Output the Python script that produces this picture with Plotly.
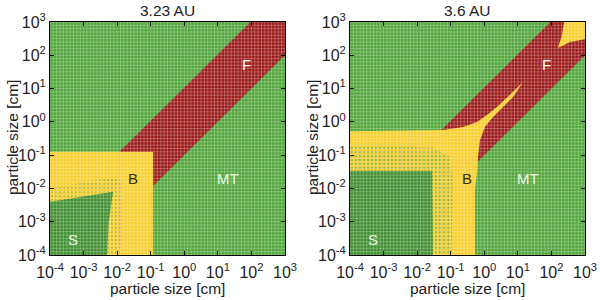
import numpy as np
import plotly.graph_objects as go

# ---------------- data (all coordinates are log10 of particle size in cm) ----------------
AXIS_MIN, AXIS_MAX = -4, 3
panel_titles = ["3.23 AU", "3.6 AU"]
tick_exps = [-4, -3, -2, -1, 0, 1, 2, 3]
tick_labels = ["10<sup>-4</sup>", "10<sup>-3</sup>", "10<sup>-2</sup>", "10<sup>-1</sup>",
               "10<sup>0</sup>", "10<sup>1</sup>", "10<sup>2</sup>", "10<sup>3</sup>"]

# fragmentation band F (same in both panels): between y = x + 1.03 and y = x - 1.0
f_band_x = [-4, 1.97, 3, 3, -3, -4]
f_band_y = [-2.97, 3, 3, 2, -4, -4]

# --- 3.23 AU ---
left_B_x = [-4, -4, -0.93, -0.93]
left_B_y = [-4, -0.9, -0.9, -4]
left_fuzz_x = [-4, -4, -2.6, -2.05, -1.85, -1.9]
left_fuzz_y = [-4, -2.0, -1.75, -1.65, -1.8, -4]
left_S_x = [-4, -4, -2.12, -2.25, -2.3]
left_S_y = [-4, -2.4, -2.1, -3.0, -4]

# --- 3.6 AU ---
right_B_x = [-4, -4, -1.23, -0.634, -0.217, 0.081, 0.379, 0.677, 0.975, 1.153,
             0.856, 0.558, 0.260, 0.021, -0.127, -0.187, -0.217, -0.276, -0.276]
right_B_y = [-4, -0.28, -0.244, -0.154, -0.004, 0.206, 0.447, 0.717, 1.017, 1.198,
             0.747, 0.447, 0.146, -0.154, -0.545, -1.055, -1.536, -2.047, -4]
right_top_x = [2.375, 2.315, 2.196, 2.553, 3, 3]
right_top_y = [3, 2.61, 2.22, 2.40, 2.48, 3]
right_fuzz_x = [-4, -4, -1.5, -1.05, -0.95, -0.97]
right_fuzz_y = [-4, -0.72, -0.78, -1.05, -1.6, -4]
right_S_x = [-4, -4, -1.55, -1.53]
right_S_y = [-4, -1.47, -1.47, -4]

# region labels: (text, x_exp, y_exp, color)
left_labels = [("F", 1.84, 1.71, "white"), ("B", -1.53, -1.69, "#3a2e05"),
               ("MT", 1.30, -1.69, "#eef7e6"), ("S", -3.32, -3.52, "#eef7e6")]
right_labels = [("F", 1.84, 1.71, "white"), ("B", -0.52, -1.69, "#3a2e05"),
                ("MT", 1.30, -1.69, "#eef7e6"), ("S", -3.32, -3.52, "#eef7e6")]

# ---------------- style ----------------
GREEN = "#52a63c"
DARK_GREEN = "#428f31"
RED = "#9c1b1b"
YELLOW = "#f8cf2e"
FONT = "Liberation Sans, Arial, sans-serif"
FS = 16

ML, MR, MT_, MB = 50, 15, 22, 45
PW = 600 - ML - MR
PH = 300 - MT_ - MB


def cm(v):
    return list(np.power(10.0, np.asarray(v, dtype=float)))


fig = go.Figure()


def poly(xs, ys, color, ax, pattern=None):
    kw = dict(x=cm(xs + xs[:1]), y=cm(ys + ys[:1]), mode="lines", fill="toself",
              fillcolor=color, line=dict(width=0, color=color), hoverinfo="skip",
              showlegend=False, xaxis=ax[0], yaxis=ax[1])
    if pattern:
        kw["fillpattern"] = pattern
    fig.add_trace(go.Scatter(**kw))


def grid(ax):
    xs, ys = [], []
    lo, hi = 10.0 ** AXIS_MIN, 10.0 ** AXIS_MAX
    for k in range(AXIS_MIN * 10, AXIS_MAX * 10 + 1):
        v = 10.0 ** (k / 10)
        xs += [v, v, None]
        ys += [lo, hi, None]
        xs += [lo, hi, None]
        ys += [v, v, None]
    fig.add_trace(go.Scatter(x=xs, y=ys, mode="lines",
                             line=dict(color="rgba(255,255,255,0.26)", width=1),
                             hoverinfo="skip", showlegend=False, xaxis=ax[0], yaxis=ax[1]))


axL = ("x", "y")
axR = ("x2", "y2")

# left panel
poly(f_band_x, f_band_y, RED, axL)
poly(left_B_x, left_B_y, YELLOW, axL)
poly(left_fuzz_x, left_fuzz_y, YELLOW, axL,
     dict(shape=".", size=4, solidity=0.18, fgcolor=DARK_GREEN, bgcolor=YELLOW))
poly(left_S_x, left_S_y, DARK_GREEN, axL)
grid(axL)

# right panel
poly(f_band_x, f_band_y, RED, axR)
poly(right_top_x, right_top_y, YELLOW, axR)
poly(right_B_x, right_B_y, YELLOW, axR)
poly(right_fuzz_x, right_fuzz_y, YELLOW, axR,
     dict(shape=".", size=4, solidity=0.35, fgcolor=DARK_GREEN, bgcolor=YELLOW))
poly(right_S_x, right_S_y, DARK_GREEN, axR)
grid(axR)

axis_common = dict(type="log", range=[AXIS_MIN, AXIS_MAX], tickvals=cm(tick_exps),
                   ticktext=tick_labels, ticks="inside", ticklen=4, tickcolor="black",
                   showline=True, linecolor="black", linewidth=1, mirror="ticks",
                   showgrid=False, zeroline=False, automargin=False,
                   tickfont=dict(family=FONT, size=FS, color="#222"))
x_extra = dict(ticklabelstandoff=3)

fig.update_layout(
    width=600, height=300,
    margin=dict(l=ML, r=MR, t=MT_, b=MB, autoexpand=False),
    paper_bgcolor="white", plot_bgcolor=GREEN,
    xaxis=dict(domain=[0, 235 / PW], anchor="y", **axis_common, **x_extra),
    yaxis=dict(domain=[0, 1], anchor="x", **axis_common),
    xaxis2=dict(domain=[300 / PW, 1], anchor="y2", **axis_common, **x_extra),
    yaxis2=dict(domain=[0, 1], anchor="x2", **axis_common),
    showlegend=False,
)


def px_x(p):
    return (p - ML) / PW


def px_y(p):
    return 1 - (p - MT_) / PH


annotations = []
for i, title in enumerate(panel_titles):
    cx = px_x([167.5, 467.5][i])
    common = dict(xref="paper", yref="paper", showarrow=False, xanchor="center",
                  yanchor="middle", font=dict(family=FONT, size=15.5, color="#222"))
    annotations.append(dict(text=title, x=cx, y=px_y(11), **common))
    annotations.append(dict(text="particle size [cm]", x=cx, y=px_y(288), **common))
    annotations.append(dict(text="particle size [cm]", x=px_x([12, 312][i]), y=px_y(138),
                            textangle=-90, **common))

for labels, (xa, ya) in ((left_labels, ("x", "y")), (right_labels, ("x2", "y2"))):
    for text, xe, ye, col in labels:
        annotations.append(dict(text=text, x=xe, y=ye, xref=xa, yref=ya, showarrow=False,
                                font=dict(family=FONT, size=15, color=col)))

fig.update_layout(annotations=annotations)
fig.write_html("out.html", config={"displayModeBar": False},
               post_script="document.body.style.margin='0';")
